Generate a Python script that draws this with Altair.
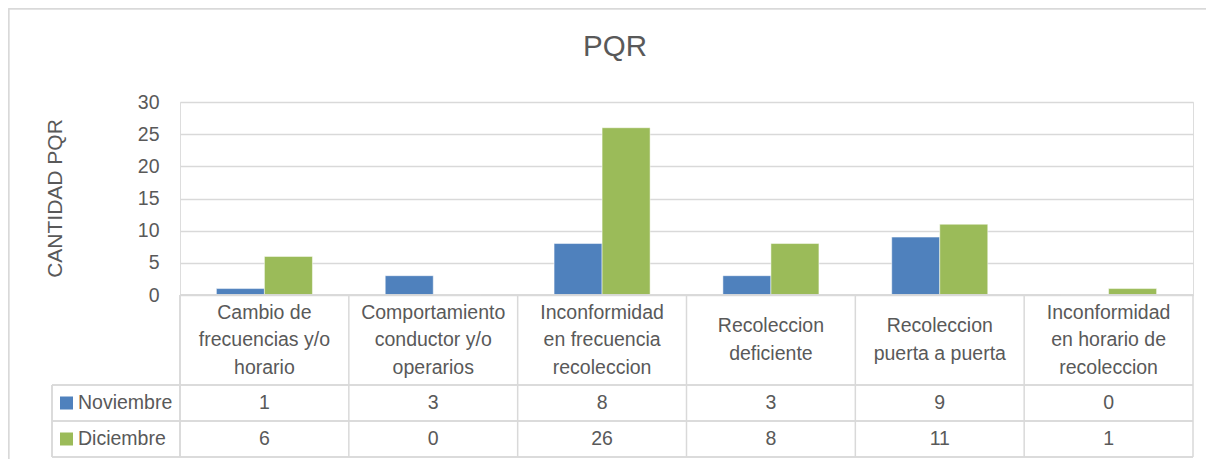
import altair as alt
import pandas as pd

categories = [
    "Cambio de frecuencias y/o horario",
    "Comportamiento conductor y/o operarios",
    "Inconformidad en frecuencia recoleccion",
    "Recoleccion deficiente",
    "Recoleccion puerta a puerta",
    "Inconformidad en horario de recoleccion",
]
category_lines = [
    "Cambio de\nfrecuencias y/o\nhorario",
    "Comportamiento\nconductor y/o\noperarios",
    "Inconformidad\nen frecuencia\nrecoleccion",
    "Recoleccion\ndeficiente",
    "Recoleccion\npuerta a puerta",
    "Inconformidad\nen horario de\nrecoleccion",
]
series = ["Noviembre", "Diciembre"]
noviembre = [1, 3, 8, 3, 9, 0]
diciembre = [6, 0, 26, 8, 11, 1]
colors = ["#4F81BD", "#9BBB59"]
y_ticks = [0, 5, 10, 15, 20, 25, 30]
chart_title = "PQR"
y_title = "CANTIDAD PQR"

FONT = "Liberation Sans"
TXT = "#595959"
GRID = "#D9D9D9"
FS = 19.5

W, H = 1013, 193
ROW1_Y, ROW2_Y = 301, 337
LH = 27.5

rows = []
for i, c in enumerate(categories):
    rows.append({"cat": c, "serie": "Noviembre", "v": noviembre[i]})
    rows.append({"cat": c, "serie": "Diciembre", "v": diciembre[i]})
df = pd.DataFrame(rows)
cats_df = pd.DataFrame({"cat": categories, "lab": category_lines,
                        "n": [s.count("\n") + 1 for s in category_lines]})
ser_df = pd.DataFrame({"serie": series})
title_df = pd.DataFrame({"t": [chart_title]})

xscale = alt.Scale(domain=categories, paddingInner=0, paddingOuter=0)
color_scale = alt.Scale(domain=series, range=colors)


def X(bp=0.5):
    return alt.X("cat:N", scale=xscale, sort=None, axis=None, bandPosition=bp)


bars = alt.Chart(df).mark_bar(stroke="white", strokeWidth=0.5).encode(
    x=alt.X("cat:N", scale=xscale, sort=None, axis=None),
    xOffset=alt.XOffset("serie:N", sort=series,
                        scale=alt.Scale(paddingInner=0, paddingOuter=0.758)),
    y=alt.Y("v:Q", scale=alt.Scale(domain=[0, 30], nice=False),
            axis=alt.Axis(values=y_ticks, title=y_title, domain=False, ticks=False,
                          grid=True, gridColor=GRID, gridWidth=1.5,
                          labelFont=FONT, labelFontSize=19.5, labelColor=TXT, labelPadding=21,
                          titleFont=FONT, titleFontSize=21, titleColor=TXT, titleFontWeight="normal",
                          titleX=-125, titleY=96, titleAlign="center", titleBaseline="middle",
                          titleAngle=270)),
    color=alt.Color("serie:N", scale=color_scale, legend=None),
)

line_kw = dict(color=GRID, strokeWidth=1.5)

base_line = alt.Chart(ser_df).mark_rule(**line_kw).encode(
    x=alt.value(0), x2=alt.value(W), y=alt.value(H))
h1 = alt.Chart(ser_df).mark_rule(**line_kw).encode(
    x=alt.value(-128), x2=alt.value(W), y=alt.value(283))
h2 = alt.Chart(ser_df).mark_rule(**line_kw).encode(
    x=alt.value(-128), x2=alt.value(W), y=alt.value(319))
h3 = alt.Chart(ser_df).mark_rule(**line_kw).encode(
    x=alt.value(-128), x2=alt.value(W), y=alt.value(355))
vleft = alt.Chart(ser_df).mark_rule(**line_kw).encode(
    x=alt.value(-128), y=alt.value(283), y2=alt.value(355))
vcols = alt.Chart(cats_df).mark_rule(**line_kw).encode(
    x=X(1), y=alt.value(H), y2=alt.value(355))
vfirst = alt.Chart(ser_df).mark_rule(**line_kw).encode(
    x=alt.value(0), y=alt.value(H), y2=alt.value(355))

txt_kw = dict(font=FONT, fontSize=FS, color=TXT, baseline="middle", align="center")

header3 = alt.Chart(cats_df[cats_df.n == 3]).mark_text(
    lineBreak="\n", lineHeight=LH, **txt_kw).encode(
    x=X(), y=alt.value(238 - LH), text="lab:N")
header2 = alt.Chart(cats_df[cats_df.n == 2]).mark_text(
    lineBreak="\n", lineHeight=LH, **txt_kw).encode(
    x=X(), y=alt.value(238 - LH / 2), text="lab:N")

val_nov = alt.Chart(df[df.serie == "Noviembre"]).mark_text(**txt_kw).encode(
    x=X(), y=alt.value(ROW1_Y), text="v:Q")
val_dic = alt.Chart(df[df.serie == "Diciembre"]).mark_text(**txt_kw).encode(
    x=X(), y=alt.value(ROW2_Y), text="v:Q")

sq_nov = alt.Chart(ser_df[ser_df.serie == "Noviembre"]).mark_rect().encode(
    x=alt.value(-120), x2=alt.value(-107), y=alt.value(ROW1_Y - 6.5), y2=alt.value(ROW1_Y + 6.5),
    color=alt.Color("serie:N", scale=color_scale, legend=None))
sq_dic = alt.Chart(ser_df[ser_df.serie == "Diciembre"]).mark_rect().encode(
    x=alt.value(-120), x2=alt.value(-107), y=alt.value(ROW2_Y - 6.5), y2=alt.value(ROW2_Y + 6.5),
    color=alt.Color("serie:N", scale=color_scale, legend=None))
leg_kw = dict(font=FONT, fontSize=FS, color=TXT, baseline="middle", align="left")
lab_nov = alt.Chart(ser_df[ser_df.serie == "Noviembre"]).mark_text(**leg_kw).encode(
    x=alt.value(-102), y=alt.value(ROW1_Y), text="serie:N")
lab_dic = alt.Chart(ser_df[ser_df.serie == "Diciembre"]).mark_text(**leg_kw).encode(
    x=alt.value(-102), y=alt.value(ROW2_Y), text="serie:N")

title = alt.Chart(title_df).mark_text(
    font=FONT, fontSize=29.5, color=TXT, baseline="middle", align="center").encode(
    x=alt.value(435), y=alt.value(-55), text="t:N")

border_top = alt.Chart(ser_df).mark_rule(color=GRID, strokeWidth=1.5).encode(
    x=alt.value(-171.5), x2=alt.value(W + 13), y=alt.value(-93.3))
border_left = alt.Chart(ser_df).mark_rule(color=GRID, strokeWidth=1.5).encode(
    x=alt.value(-171.3), y=alt.value(-93.5), y2=alt.value(H + 164))

chart = alt.layer(
    border_top, border_left, title,
    bars, base_line, h1, h2, h3, vleft, vcols, vfirst,
    header3, header2, val_nov, val_dic, sq_nov, sq_dic, lab_nov, lab_dic,
).properties(
    width=W, height=H,
    autosize=alt.AutoSizeParams(type="none"),
    padding={"left": 172, "top": 94, "right": 13, "bottom": 164},
).configure_view(stroke=None).configure(background="white")

chart.save("out.html", embed_options={"renderer": "svg", "actions": False})
